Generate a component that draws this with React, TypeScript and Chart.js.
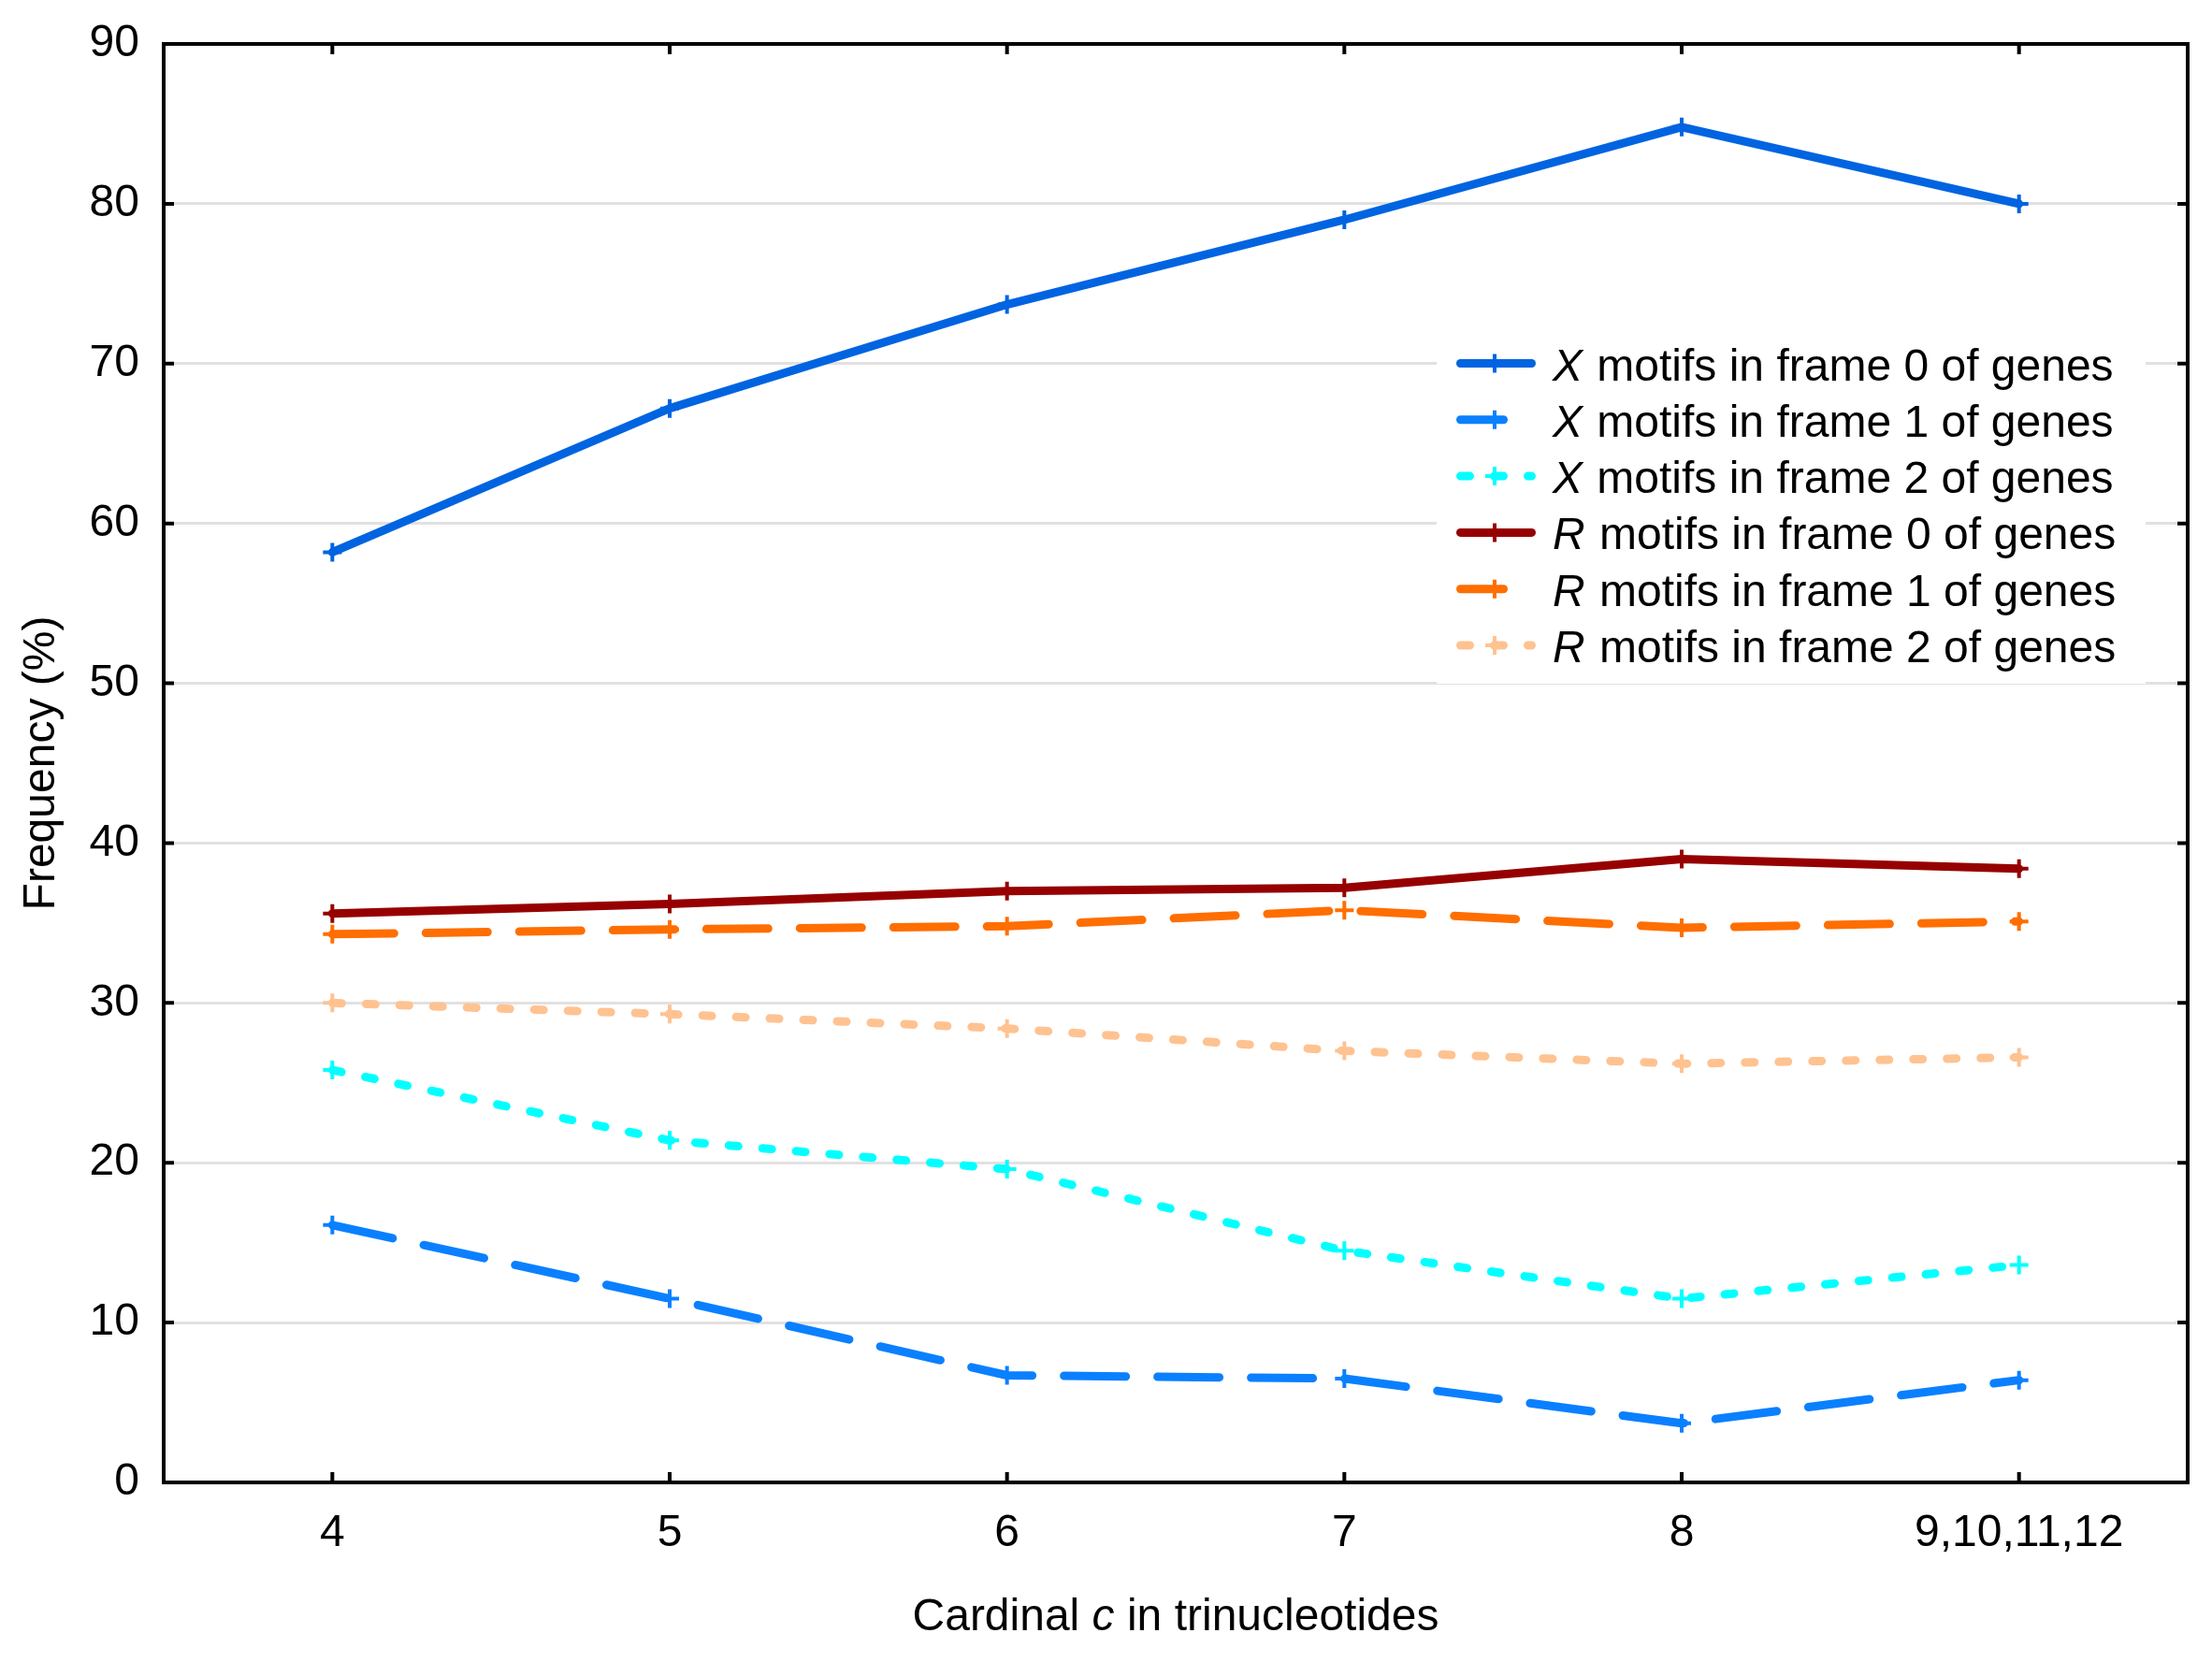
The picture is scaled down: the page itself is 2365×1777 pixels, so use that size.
import React, { useEffect, useRef } from 'react';
import { Chart, registerables } from 'chart.js';

Chart.register(...registerables);

const categories = ['4', '5', '6', '7', '8', '9,10,11,12'];
const xFrame0 = [58.2, 67.2, 73.7, 79.0, 84.8, 80.0];
const xFrame1 = [16.1, 11.5, 6.7, 6.5, 3.7, 6.4];
const xFrame2 = [25.8, 21.4, 19.6, 14.5, 11.5, 13.6];
const rFrame0 = [35.6, 36.2, 37.0, 37.2, 39.0, 38.4];
const rFrame1 = [34.3, 34.6, 34.8, 35.8, 34.7, 35.1];
const rFrame2 = [30.0, 29.3, 28.4, 27.0, 26.2, 26.6];

const FONT = '"Liberation Sans", Arial, sans-serif';
const LONG_DASH = [66, 34];
const SHORT_DASH = [10, 26];

const series = [
  { letter: 'X', rest: ' motifs in frame 0 of genes', data: xFrame0, color: '#0064e1', dash: [] as number[], offset: 0 },
  { letter: 'X', rest: ' motifs in frame 1 of genes', data: xFrame1, color: '#0a80ff', dash: LONG_DASH, offset: 20 },
  { letter: 'X', rest: ' motifs in frame 2 of genes', data: xFrame2, color: '#00ffff', dash: SHORT_DASH, offset: 0 },
  { letter: 'R', rest: ' motifs in frame 0 of genes', data: rFrame0, color: '#960000', dash: [] as number[], offset: 0 },
  { letter: 'R', rest: ' motifs in frame 1 of genes', data: rFrame1, color: '#ff6e00', dash: LONG_DASH, offset: 20 },
  { letter: 'R', rest: ' motifs in frame 2 of genes', data: rFrame2, color: '#ffc291', dash: SHORT_DASH, offset: 0 },
];

// frame, inward ticks, axis titles and the legend box
const decorations = {
  id: 'decorations',
  afterDraw(chart: any) {
    const { ctx, chartArea: a, scales } = chart;
    ctx.save();

    // legend
    ctx.fillStyle = '#ffffff';
    ctx.fillRect(1536, 345, 758, 386);
    series.forEach((s, i) => {
      const y = 388.5 + i * 60.3;
      ctx.strokeStyle = s.color;
      ctx.lineWidth = 9;
      ctx.lineCap = 'round';
      ctx.setLineDash(s.dash);
      ctx.lineDashOffset = s.offset;
      ctx.beginPath();
      ctx.moveTo(1561.5, y);
      ctx.lineTo(1637.5, y);
      ctx.stroke();
      ctx.setLineDash([]);
      ctx.lineCap = 'butt';
      ctx.lineWidth = 4;
      ctx.beginPath();
      ctx.moveTo(1588, y);
      ctx.lineTo(1608, y);
      ctx.moveTo(1598, y - 10);
      ctx.lineTo(1598, y + 10);
      ctx.stroke();
      ctx.fillStyle = '#000000';
      ctx.textBaseline = 'alphabetic';
      ctx.textAlign = 'left';
      ctx.font = `italic 48px ${FONT}`;
      ctx.fillText(s.letter, 1660, y + 18);
      const w = ctx.measureText(s.letter).width;
      ctx.font = `48px ${FONT}`;
      ctx.fillText(s.rest, 1660 + w + 2, y + 18);
    });

    // frame
    ctx.strokeStyle = '#000000';
    ctx.lineWidth = 4;
    ctx.strokeRect(a.left, a.top, a.right - a.left, a.bottom - a.top);

    // inward ticks
    const x = scales.x;
    const yS = scales.y;
    ctx.lineWidth = 4;
    ctx.beginPath();
    x.ticks.forEach((_: any, i: number) => {
      const px = x.getPixelForTick(i);
      ctx.moveTo(px, a.bottom);
      ctx.lineTo(px, a.bottom - 11);
      ctx.moveTo(px, a.top);
      ctx.lineTo(px, a.top + 11);
    });
    yS.ticks.forEach((_: any, i: number) => {
      const py = yS.getPixelForTick(i);
      ctx.moveTo(a.left, py);
      ctx.lineTo(a.left + 11, py);
      ctx.moveTo(a.right, py);
      ctx.lineTo(a.right - 11, py);
    });
    ctx.stroke();

    // x title
    ctx.fillStyle = '#000000';
    ctx.textBaseline = 'alphabetic';
    const parts = [
      { t: 'Cardinal ', f: `48px ${FONT}` },
      { t: 'c', f: `italic 48px ${FONT}` },
      { t: ' in trinucleotides', f: `48px ${FONT}` },
    ];
    let total = 0;
    parts.forEach((p) => {
      ctx.font = p.f;
      total += ctx.measureText(p.t).width;
    });
    let cx = (a.left + a.right) / 2 - total / 2;
    ctx.textAlign = 'left';
    parts.forEach((p) => {
      ctx.font = p.f;
      ctx.fillText(p.t, cx, 1743);
      cx += ctx.measureText(p.t).width;
    });

    // y title
    ctx.translate(58, (a.top + a.bottom) / 2);
    ctx.rotate(-Math.PI / 2);
    ctx.textAlign = 'center';
    ctx.font = `48px ${FONT}`;
    ctx.fillText('Frequency (%)', 0, 0);
    ctx.restore();
  },
};

const App: React.FC = () => {
  const canvasRef = useRef<HTMLCanvasElement>(null);

  useEffect(() => {
    const chart = new Chart(canvasRef.current as HTMLCanvasElement, {
      type: 'line',
      data: {
        labels: categories,
        datasets: series.map((s) => ({
          label: s.letter + s.rest,
          data: s.data,
          borderColor: s.color,
          backgroundColor: s.color,
          borderWidth: 9,
          borderDash: s.dash,
          borderCapStyle: 'round',
          borderJoinStyle: 'round',
          tension: 0,
          fill: false,
          pointStyle: 'cross',
          pointRadius: 10,
          pointBorderWidth: 4,
          pointBorderColor: s.color,
          pointHoverRadius: 10,
        })),
      },
      options: {
        responsive: false,
        devicePixelRatio: 1,
        animation: false,
        layout: { padding: { top: 47, right: 26, left: 0, bottom: 0 } },
        plugins: {
          legend: { display: false },
          tooltip: { enabled: false },
        },
        scales: {
          x: {
            offset: true,
            grid: { display: false, drawTicks: false },
            border: { display: false },
            ticks: { color: '#000', font: { family: FONT, size: 48 }, padding: 26, maxRotation: 0 },
            afterFit: (s: any) => {
              s.height = 192;
              s.paddingLeft = 0;
              s.paddingRight = 0;
            },
          },
          y: {
            min: 0,
            max: 90,
            grid: { color: '#e1e1e1', lineWidth: 3, drawTicks: false },
            border: { display: false },
            ticks: { stepSize: 10, color: '#000', font: { family: FONT, size: 48 }, padding: 26 },
            afterFit: (s: any) => {
              s.width = 175;
              s.paddingTop = 0;
              s.paddingBottom = 0;
            },
          },
        },
      },
      plugins: [decorations],
    });
    return () => {
      chart.destroy();
    };
  }, []);

  return (
    <div style={{ position: 'fixed', left: 0, top: 0, background: '#fff' }}>
      <canvas ref={canvasRef} width={2365} height={1777} />
    </div>
  );
};

export default App;
